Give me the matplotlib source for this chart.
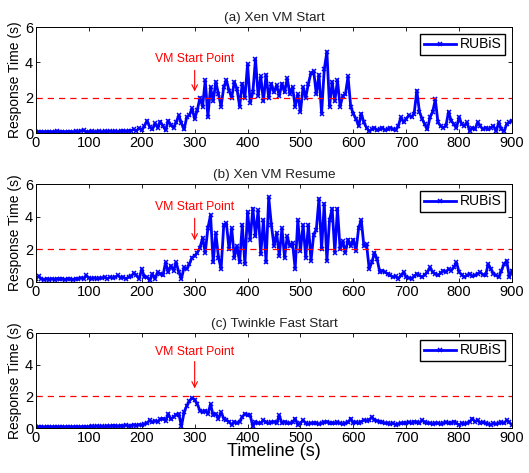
import numpy as np
import matplotlib
matplotlib.use("Agg")
import matplotlib.pyplot as plt

plt.rcParams['font.family'] = ['Liberation Sans', 'DejaVu Sans']

# Timeline (s), sampled every 5 s
timeline = np.arange(0, 901, 5)

xen_vm_start = [
    0.05,0.08,0.06,0.07,0.05,0.08,0.06,0.07,0.09,0.06,
    0.07,0.06,0.08,0.07,0.06,0.09,0.07,0.12,0.15,0.08,
    0.07,0.09,0.06,0.08,0.1,0.07,0.09,0.08,0.1,0.07,
    0.09,0.08,0.1,0.12,0.09,0.11,0.14,0.2,0.12,0.28,
    0.15,0.4,0.7,0.35,0.2,0.55,0.3,0.65,0.4,0.15,
    0.7,0.45,0.3,0.6,1.0,0.55,0.2,0.9,1.0,1.4,
    0.8,1.3,2.0,1.5,3.0,0.9,2.6,1.8,2.9,2.2,
    1.5,2.6,3.0,2.4,2.0,2.9,2.5,1.5,2.8,2.0,
    3.9,1.7,2.3,4.2,2.1,3.2,1.8,3.3,2.0,2.8,
    2.3,2.7,2.1,2.8,2.3,3.1,2.2,2.6,1.5,2.2,
    1.2,2.6,2.0,2.8,3.4,3.5,2.2,3.3,1.1,3.6,
    4.6,1.5,2.9,1.8,3.0,1.5,2.1,2.2,3.2,1.5,
    1.1,0.8,0.4,1.1,0.6,0.3,0.1,0.2,0.3,0.15,
    0.2,0.3,0.15,0.2,0.3,0.2,0.15,0.4,0.9,0.6,
    0.8,1.0,0.9,1.1,2.4,1.2,0.8,0.5,0.2,0.9,
    1.2,1.9,0.6,0.4,0.3,0.4,1.2,0.7,0.5,0.3,
    0.9,0.5,0.4,0.6,0.1,0.3,0.2,0.6,0.4,0.2,
    0.3,0.2,0.3,0.4,0.1,0.6,0.2,0.1,0.5,0.6,
    0.7]

xen_vm_resume = [
    0.2,0.35,0.2,0.15,0.2,0.15,0.2,0.15,0.2,0.18,
    0.2,0.15,0.2,0.18,0.15,0.2,0.2,0.25,0.2,0.4,
    0.25,0.2,0.25,0.2,0.22,0.25,0.3,0.2,0.3,0.25,
    0.3,0.4,0.25,0.3,0.2,0.3,0.35,0.55,0.4,0.2,
    0.8,0.3,0.3,0.1,0.5,0.2,0.6,0.5,0.4,1.2,
    0.6,1.0,0.7,1.2,0.6,0.2,0.9,0.8,1.1,1.5,
    1.6,1.8,2.1,2.7,1.8,3.3,4.1,1.2,3.0,1.5,
    0.8,3.5,3.6,2.0,3.3,1.5,2.2,1.2,3.5,1.1,
    4.3,2.6,4.5,2.8,4.4,1.7,3.8,1.2,5.2,3.5,
    2.2,3.0,1.6,3.3,1.5,2.8,2.2,2.4,0.8,3.8,
    1.9,3.5,1.5,3.5,1.3,2.9,3.2,5.1,2.0,4.8,
    1.3,3.8,4.5,1.8,4.5,2.0,2.5,1.8,2.6,2.2,
    2.6,1.9,3.3,3.8,2.2,2.3,0.8,1.2,1.8,1.4,
    0.6,0.7,0.6,0.5,0.4,0.3,0.35,0.2,0.4,0.6,
    0.3,0.25,0.2,0.35,0.5,0.4,0.3,0.45,0.6,0.9,
    0.6,0.5,0.4,0.55,0.7,0.6,0.8,0.7,0.9,1.2,
    0.6,0.45,0.3,0.4,0.5,0.35,0.4,0.5,0.6,0.45,
    0.4,1.1,0.8,0.5,0.4,0.3,0.7,1.1,1.3,0.3,
    0.7]

twinkle_fast_start = [
    0.06,0.05,0.07,0.05,0.06,0.05,0.07,0.06,0.05,0.06,
    0.07,0.06,0.08,0.06,0.07,0.08,0.06,0.07,0.09,0.07,
    0.08,0.1,0.08,0.12,0.09,0.1,0.08,0.12,0.1,0.15,
    0.12,0.1,0.14,0.12,0.18,0.12,0.15,0.2,0.15,0.22,
    0.18,0.25,0.3,0.5,0.35,0.45,0.4,0.55,0.6,0.45,
    0.9,0.55,0.7,0.85,0.9,0.1,1.0,1.4,1.7,1.9,
    1.8,1.5,1.1,1.0,1.1,0.9,1.5,0.8,0.9,0.6,
    1.0,0.6,0.5,0.4,0.2,0.4,0.3,0.4,0.7,0.9,
    0.8,0.8,0.1,0.4,0.3,0.3,0.5,0.35,0.3,0.35,
    0.4,0.3,0.8,0.3,0.4,0.3,0.3,0.35,0.6,0.2,
    0.3,0.5,0.3,0.25,0.3,0.3,0.3,0.25,0.3,0.35,
    0.4,0.3,0.3,0.3,0.35,0.3,0.25,0.3,0.35,0.6,
    0.3,0.35,0.3,0.4,0.5,0.45,0.5,0.7,0.5,0.45,
    0.4,0.35,0.3,0.3,0.25,0.3,0.2,0.25,0.3,0.3,
    0.3,0.35,0.3,0.4,0.35,0.3,0.5,0.35,0.3,0.3,
    0.25,0.3,0.3,0.25,0.3,0.35,0.3,0.3,0.4,0.3,
    0.2,0.3,0.25,0.3,0.4,0.6,0.4,0.5,0.3,0.35,
    0.3,0.25,0.2,0.3,0.25,0.3,0.35,0.3,0.5,0.35,
    0.2]

titles = ["(a) Xen VM Start", "(b) Xen VM Resume", "(c) Twinkle Fast Start"]
series = [xen_vm_start, xen_vm_resume, twinkle_fast_start]
thresholds = [2.0, 2.05, 2.0]
start_point = 300
annot_text_y = [4.2, 4.6, 4.8]
annot_arrow_from = [3.55, 3.9, 4.2]
annot_arrow_to = [2.35, 2.55, 2.5]
xticks = [0, 100, 200, 300, 400, 500, 600, 700, 800, 900]
yticks = [0, 2, 4, 6]

W, H = 529, 473
fig = plt.figure(figsize=(W / 100, H / 100), dpi=100)

# pixel boxes: (top, bottom)
boxes = [(27, 133), (184, 282), (333, 428)]
left_px, right_px = 36, 512

for i, (ttl, ys, thr) in enumerate(zip(titles, series, thresholds)):
    top, bot = boxes[i]
    ax = fig.add_axes([left_px / W, 1 - bot / H, (right_px - left_px) / W, (bot - top) / H])
    ax.plot(timeline, ys, color='#0000ff', lw=2.0, marker='x', ms=3.2, mew=1.1,
            label='RUBiS')
    ax.axhline(thr, color='#ff0000', ls=(0, (5, 4)), lw=0.9)
    ax.set_xlim(0, 900)
    ax.set_ylim(0, 6)
    ax.set_xticks(xticks)
    ax.set_yticks(yticks)
    ax.tick_params(direction='in', top=True, right=True, labelsize=10.5,
                   length=3, width=0.6, pad=2)
    for s in ax.spines.values():
        s.set_linewidth(0.7)
    ax.set_title(ttl, fontsize=9.7, pad=4, color='#222222')
    ax.set_ylabel('Response Time (s)', fontsize=10, labelpad=2)
    ax.annotate('', xy=(start_point, annot_arrow_to[i]),
                xytext=(start_point, annot_arrow_from[i]),
                arrowprops=dict(arrowstyle='->', color='#ff0000', lw=0.8,
                                shrinkA=0, shrinkB=0))
    ax.text(start_point, annot_text_y[i], 'VM Start Point', color='#ff0000',
            fontsize=8.8, ha='center', va='center')
    leg = ax.legend(loc='upper right', fontsize=10, fancybox=False,
                    edgecolor='black', framealpha=1, borderpad=0.25,
                    handlelength=2.3, handletextpad=0.3, borderaxespad=0.5)
    leg.get_frame().set_linewidth(1.0)
    if i == 2:
        ax.set_xlabel('Timeline (s)', fontsize=13, labelpad=-1)

fig.savefig('out.png', dpi=100)
